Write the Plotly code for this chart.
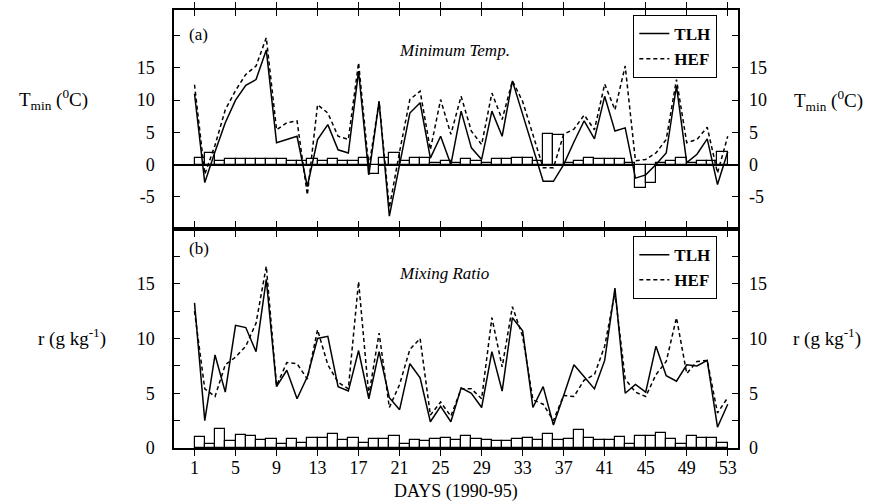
import plotly.graph_objects as go

days = list(range(1, 54))
x_ticks = list(range(1, 54, 4))

# Panel (a): minimum temperature (deg C)
tmin_tlh = [11.0, -2.8, 2.0, 6.5, 10.0, 12.3, 13.2, 17.8, 3.4, 3.9, 4.4, -3.4, 3.9, 6.2, 2.3, 1.8,
            14.5, -1.6, 9.8, -8.0, 0.3, 8.0, 9.6, 1.0, 4.4, 0.0, 8.3, 2.6, 0.8, 8.3, 4.4, 13.0,
            7.8, 2.6, -2.6, -2.6, 0.0, 3.5, 6.8, 4.0, 10.6, 5.2, 5.7, -2.1, -1.6, 0.0, 1.8, 12.2,
            0.3, 1.6, 4.0, -3.1, 2.0]
tmin_hef = [12.4, -1.5, 3.0, 8.5, 11.5, 14.0, 15.3, 19.7, 5.4, 6.5, 6.8, -4.7, 9.3, 8.0, 4.4, 3.9,
            15.8, -0.5, 9.8, -6.7, 2.0, 10.1, 11.4, 2.3, 10.1, 4.7, 10.6, 5.2, 3.1, 11.1, 7.0, 13.0,
            9.8, 4.7, -0.5, -0.5, 4.7, 5.5, 7.7, 5.4, 12.5, 8.5, 15.3, 0.6, 0.8, 1.8, 3.9, 13.2,
            3.4, 3.9, 5.8, -1.3, 4.4]
tmin_bar = [1.0, 1.8, 0.5, 0.8, 0.9, 0.9, 0.9, 0.9, 0.8, 0.5, 0.5, 0.8, 0.5, 0.9, 0.5, 0.5,
            1.0, -1.5, 1.0, 1.8, 0.6, 1.0, 1.0, 0.2, 0.5, 0.2, 0.9, 0.6, 0.2, 0.8, 0.8, 1.1,
            1.0, 0.6, 4.7, 4.6, 0.3, 0.6, 1.0, 0.9, 0.9, 0.8, 0.3, -3.7, -2.9, 0.2, 0.6, 1.0,
            0.3, 0.5, 0.6, 2.0]

# Panel (b): mixing ratio (g/kg)
r_tlh = [13.25, 2.5, 8.5, 5.1, 11.2, 11.0, 8.8, 15.4, 5.6, 7.1, 4.5, 6.5, 10.0, 10.2, 5.6, 5.2,
         8.9, 4.5, 8.8, 4.6, 3.5, 7.7, 6.4, 2.4, 3.8, 2.4, 5.5, 5.0, 3.7, 8.8, 5.2, 11.9,
         10.7, 3.7, 5.6, 2.1, 4.8, 7.6, 6.5, 5.4, 8.0, 14.6, 5.0, 5.8, 5.1, 9.3, 6.6, 6.1,
         7.6, 7.5, 8.0, 1.9, 4.0]
r_hef = [12.5, 5.4, 4.7, 7.6, 8.3, 9.3, 11.4, 16.6, 5.7, 7.8, 7.7, 6.3, 10.8, 7.6, 6.0, 5.4,
         15.2, 4.8, 10.5, 3.7, 5.8, 9.0, 10.0, 3.0, 4.2, 2.9, 5.4, 5.4, 4.5, 11.9, 7.4, 12.9,
         10.2, 4.4, 4.0, 2.5, 4.8, 4.7, 6.2, 6.7, 9.3, 14.2, 6.3, 5.1, 4.7, 6.7, 7.9, 11.9,
         6.8, 7.9, 8.0, 3.2, 4.6]
r_bar = [1.0, 0.4, 1.75, 0.6, 1.2, 1.1, 0.7, 0.8, 0.4, 0.8, 0.5, 0.9, 0.9, 1.3, 0.7, 0.9,
         0.5, 0.8, 0.8, 1.1, 0.4, 0.7, 0.6, 0.8, 0.9, 0.7, 1.1, 0.8, 0.7, 0.6, 0.6, 0.8,
         0.9, 0.7, 1.3, 0.7, 0.8, 1.6, 0.9, 0.7, 0.7, 1.0, 0.4, 1.1, 1.1, 1.4, 0.8, 0.4,
         1.1, 0.9, 0.9, 0.5]

tmin_ticks = [-5, 0, 5, 10, 15, 20]
tmin_labels = ["-5", "0", "5", "10", "15", ""]
r_ticks = [0, 2.5, 5, 7.5, 10, 12.5, 15, 17.5, 20]
r_labels = ["0", "", "5", "", "10", "", "15", "", ""]

FONT = "Liberation Serif"
bar_days = days[:-1]

fig = go.Figure()

# bars on the primary (left) axes, lines on the overlaying (right-labelled) axes
fig.add_trace(go.Bar(x=bar_days, y=tmin_bar, width=1, offset=0, xaxis="x", yaxis="y",
                     marker=dict(color="white", line=dict(color="black", width=1.2)),
                     showlegend=False, hoverinfo="skip"))
fig.add_trace(go.Scatter(x=days, y=tmin_tlh, mode="lines", name="<b>TLH</b>", xaxis="x", yaxis="y3",
                         line=dict(color="black", width=1.5), legend="legend"))
fig.add_trace(go.Scatter(x=days, y=tmin_hef, mode="lines", name="<b>HEF</b>", xaxis="x", yaxis="y3",
                         line=dict(color="black", width=1.5, dash="4px,3px"), legend="legend"))

fig.add_trace(go.Bar(x=bar_days, y=r_bar, width=1, offset=0, xaxis="x2", yaxis="y2",
                     marker=dict(color="white", line=dict(color="black", width=1.2)),
                     showlegend=False, hoverinfo="skip"))
fig.add_trace(go.Scatter(x=days, y=r_tlh, mode="lines", name="<b>TLH</b>", xaxis="x2", yaxis="y4",
                         line=dict(color="black", width=1.5), legend="legend2"))
fig.add_trace(go.Scatter(x=days, y=r_hef, mode="lines", name="<b>HEF</b>", xaxis="x2", yaxis="y4",
                         line=dict(color="black", width=1.5, dash="4px,3px"), legend="legend2"))

tickfont = dict(family=FONT, size=18, color="black")
axis_common = dict(showline=True, linecolor="black", linewidth=1.5, ticks="inside", ticklen=6,
                   tickwidth=1.2, tickcolor="black", showgrid=False, tickfont=tickfont)
right_common = dict(side="right", ticks="", showline=False, showgrid=False, zeroline=False,
                    ticklabelstandoff=10, tickfont=tickfont)

fig.update_layout(
    width=880, height=504,
    margin=dict(l=174, r=142, t=8, b=56),
    paper_bgcolor="white", plot_bgcolor="white",
    font=dict(family=FONT, color="black"),
    bargap=0,
    xaxis=dict(domain=[0, 1], anchor="y", range=[-1, 54], tickvals=x_ticks, showticklabels=False,
               mirror="allticks", zeroline=False, **axis_common),
    yaxis=dict(domain=[0.5, 1], anchor="x", range=[-10, 24], tickvals=tmin_ticks, ticktext=tmin_labels,
               mirror="allticks", zeroline=True, zerolinecolor="black", zerolinewidth=1.5,
               ticklabelstandoff=14, **axis_common),
    xaxis2=dict(domain=[0, 1], anchor="y2", range=[-1, 54], tickvals=x_ticks, matches="x",
                mirror="allticks", zeroline=False, ticklabelstandoff=3, **axis_common),
    yaxis2=dict(domain=[0, 0.5], anchor="x2", range=[0, 20], tickvals=r_ticks, ticktext=r_labels,
                mirror="allticks", zeroline=False, ticklabelstandoff=14, **axis_common),
    yaxis3=dict(overlaying="y", anchor="x", range=[-10, 24], tickvals=tmin_ticks,
                ticktext=tmin_labels, **right_common),
    yaxis4=dict(overlaying="y2", anchor="x2", range=[0, 20], tickvals=r_ticks,
                ticktext=r_labels, **right_common),
    legend=dict(x=0.963, xanchor="right", y=0.989, yanchor="top", bgcolor="white",
                bordercolor="black", borderwidth=1.2, font=dict(family=FONT, size=17, color="black"),
                itemwidth=30, tracegroupgap=0),
    legend2=dict(x=0.963, xanchor="right", y=0.484, yanchor="top", bgcolor="white",
                 bordercolor="black", borderwidth=1.2, font=dict(family=FONT, size=17, color="black"),
                 itemwidth=30, tracegroupgap=0),
)

ann = [
    dict(text="(a)", x=0.0443, y=0.943),
    dict(text="(b)", x=0.0443, y=0.4545),
    dict(text="<i>Minimum Temp.</i>", x=0.4965, y=0.908),
    dict(text="<i>Mixing Ratio</i>", x=0.4796, y=0.398),
    dict(text="T<sub>min</sub> (<sup>0</sup>C)", x=-0.213, y=0.795, size=19),
    dict(text="T<sub>min</sub> (<sup>0</sup>C)", x=1.161, y=0.793, size=19),
    dict(text="r (g kg<sup>-1</sup>)", x=-0.181, y=0.252, size=19),
    dict(text="r (g kg<sup>-1</sup>)", x=1.158, y=0.252, size=19),
    dict(text="DAYS (1990-95)", x=0.5, y=-0.1, size=18),
]
for a in ann:
    fig.add_annotation(text=a["text"], x=a["x"], y=a["y"], xref="paper", yref="paper",
                       showarrow=False, xanchor="center", yanchor="middle",
                       font=dict(family=FONT, size=a.get("size", 17), color="black"))

fig.write_html("out.html")
